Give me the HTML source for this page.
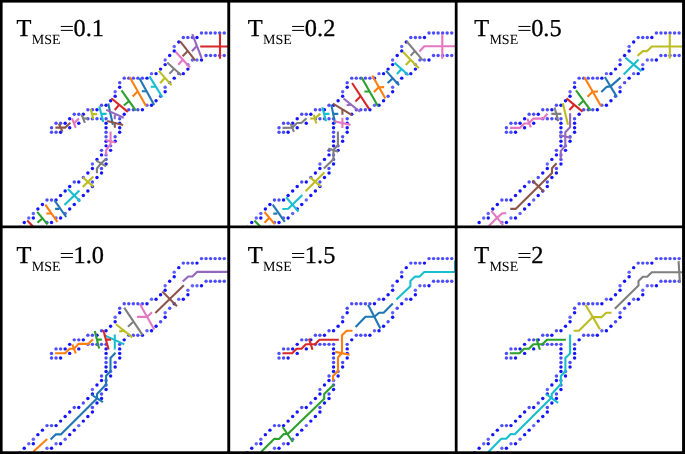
<!DOCTYPE html>
<html><head><meta charset="utf-8"><style>
html,body{margin:0;padding:0;background:#fff;width:685px;height:454px;overflow:hidden}
svg{display:block;will-change:transform}
text{text-rendering:geometricPrecision}
.lab{font-family:"Liberation Serif",serif;font-size:24.4px;fill:#000;stroke:#000;stroke-width:0.3px}
.sub{font-family:"Liberation Serif",serif;font-size:14px;fill:#000}
</style></head><body>
<svg width="685" height="454" viewBox="0 0 685 454">
<rect width="685" height="454" fill="#fff"/>
<defs><clipPath id="cp0"><rect x="2" y="2" width="226.3" height="224.6"/></clipPath><clipPath id="cp1"><rect x="229.5" y="2" width="226.3" height="224.6"/></clipPath><clipPath id="cp2"><rect x="456.9" y="2" width="226.3" height="224.6"/></clipPath><clipPath id="cp3"><rect x="2" y="227.6" width="226.3" height="224.6"/></clipPath><clipPath id="cp4"><rect x="229.5" y="227.6" width="226.3" height="224.6"/></clipPath><clipPath id="cp5"><rect x="456.9" y="227.6" width="226.3" height="224.6"/></clipPath><g id="dots"><circle cx="201.50" cy="33.00" r="1.72" fill="#0000ff" fill-opacity="0.7"/>
<circle cx="206.05" cy="33.00" r="1.72" fill="#0000ff" fill-opacity="0.7"/>
<circle cx="210.59" cy="33.00" r="1.72" fill="#0000ff" fill-opacity="0.7"/>
<circle cx="215.14" cy="33.00" r="1.72" fill="#0000ff" fill-opacity="0.7"/>
<circle cx="219.69" cy="33.00" r="1.72" fill="#0000ff" fill-opacity="0.7"/>
<circle cx="224.23" cy="33.00" r="1.72" fill="#0000ff" fill-opacity="0.7"/>
<circle cx="183.32" cy="37.51" r="1.72" fill="#0000ff" fill-opacity="0.7"/>
<circle cx="187.87" cy="37.51" r="1.72" fill="#0000ff" fill-opacity="0.7"/>
<circle cx="192.41" cy="37.51" r="1.72" fill="#0000ff" fill-opacity="0.7"/>
<circle cx="196.96" cy="37.51" r="1.72" fill="#0000ff" fill-opacity="0.92"/>
<circle cx="178.78" cy="42.03" r="1.72" fill="#0000ff" fill-opacity="0.92"/>
<circle cx="174.23" cy="46.54" r="1.72" fill="#0000ff" fill-opacity="0.62"/>
<circle cx="174.23" cy="51.06" r="1.72" fill="#0000ff" fill-opacity="0.92"/>
<circle cx="169.69" cy="55.57" r="1.72" fill="#0000ff" fill-opacity="0.92"/>
<circle cx="165.15" cy="60.08" r="1.72" fill="#0000ff" fill-opacity="0.62"/>
<circle cx="165.15" cy="64.60" r="1.72" fill="#0000ff" fill-opacity="0.92"/>
<circle cx="160.60" cy="69.11" r="1.72" fill="#0000ff" fill-opacity="0.92"/>
<circle cx="151.51" cy="73.63" r="1.72" fill="#0000ff" fill-opacity="0.62"/>
<circle cx="156.06" cy="73.63" r="1.72" fill="#0000ff" fill-opacity="0.92"/>
<circle cx="124.24" cy="78.14" r="1.72" fill="#0000ff" fill-opacity="0.7"/>
<circle cx="128.78" cy="78.14" r="1.72" fill="#0000ff" fill-opacity="0.7"/>
<circle cx="133.33" cy="78.14" r="1.72" fill="#0000ff" fill-opacity="0.7"/>
<circle cx="137.88" cy="78.14" r="1.72" fill="#0000ff" fill-opacity="0.7"/>
<circle cx="142.42" cy="78.14" r="1.72" fill="#0000ff" fill-opacity="0.7"/>
<circle cx="146.97" cy="78.14" r="1.72" fill="#0000ff" fill-opacity="0.92"/>
<circle cx="119.69" cy="82.65" r="1.72" fill="#0000ff" fill-opacity="0.7"/>
<circle cx="119.69" cy="87.17" r="1.72" fill="#0000ff" fill-opacity="0.92"/>
<circle cx="115.15" cy="91.68" r="1.72" fill="#0000ff" fill-opacity="0.62"/>
<circle cx="115.15" cy="96.20" r="1.72" fill="#0000ff" fill-opacity="0.92"/>
<circle cx="110.61" cy="100.71" r="1.72" fill="#0000ff" fill-opacity="0.92"/>
<circle cx="101.52" cy="105.22" r="1.72" fill="#0000ff" fill-opacity="0.7"/>
<circle cx="106.06" cy="105.22" r="1.72" fill="#0000ff" fill-opacity="0.92"/>
<circle cx="87.88" cy="109.74" r="1.72" fill="#0000ff" fill-opacity="0.7"/>
<circle cx="92.42" cy="109.74" r="1.72" fill="#0000ff" fill-opacity="0.7"/>
<circle cx="96.97" cy="109.74" r="1.72" fill="#0000ff" fill-opacity="0.92"/>
<circle cx="74.25" cy="114.25" r="1.72" fill="#0000ff" fill-opacity="0.7"/>
<circle cx="78.79" cy="114.25" r="1.72" fill="#0000ff" fill-opacity="0.7"/>
<circle cx="83.34" cy="114.25" r="1.72" fill="#0000ff" fill-opacity="0.92"/>
<circle cx="69.70" cy="118.77" r="1.72" fill="#0000ff" fill-opacity="0.92"/>
<circle cx="56.06" cy="123.28" r="1.72" fill="#0000ff" fill-opacity="0.7"/>
<circle cx="60.61" cy="123.28" r="1.72" fill="#0000ff" fill-opacity="0.7"/>
<circle cx="65.16" cy="123.28" r="1.72" fill="#0000ff" fill-opacity="0.92"/>
<circle cx="51.52" cy="127.79" r="1.72" fill="#0000ff" fill-opacity="0.7"/>
<circle cx="51.52" cy="132.31" r="1.72" fill="#0000ff" fill-opacity="0.7"/>
<circle cx="56.06" cy="132.31" r="1.72" fill="#0000ff" fill-opacity="0.7"/>
<circle cx="60.61" cy="132.31" r="1.72" fill="#0000ff" fill-opacity="0.92"/>
<circle cx="69.70" cy="127.79" r="1.72" fill="#0000ff" fill-opacity="0.92"/>
<circle cx="78.79" cy="123.28" r="1.72" fill="#0000ff" fill-opacity="0.92"/>
<circle cx="87.88" cy="118.77" r="1.72" fill="#0000ff" fill-opacity="0.7"/>
<circle cx="92.42" cy="118.77" r="1.72" fill="#0000ff" fill-opacity="0.7"/>
<circle cx="96.97" cy="118.77" r="1.72" fill="#0000ff" fill-opacity="0.7"/>
<circle cx="101.52" cy="118.77" r="1.72" fill="#0000ff" fill-opacity="0.7"/>
<circle cx="106.06" cy="118.77" r="1.72" fill="#0000ff" fill-opacity="0.7"/>
<circle cx="106.06" cy="123.28" r="1.72" fill="#0000ff" fill-opacity="0.92"/>
<circle cx="106.06" cy="127.79" r="1.72" fill="#0000ff" fill-opacity="0.92"/>
<circle cx="106.06" cy="132.31" r="1.72" fill="#0000ff" fill-opacity="0.7"/>
<circle cx="106.06" cy="136.82" r="1.72" fill="#0000ff" fill-opacity="0.7"/>
<circle cx="106.06" cy="141.34" r="1.72" fill="#0000ff" fill-opacity="0.92"/>
<circle cx="106.06" cy="145.85" r="1.72" fill="#0000ff" fill-opacity="0.92"/>
<circle cx="101.52" cy="150.36" r="1.72" fill="#0000ff" fill-opacity="0.7"/>
<circle cx="101.52" cy="154.88" r="1.72" fill="#0000ff" fill-opacity="0.92"/>
<circle cx="96.97" cy="159.39" r="1.72" fill="#0000ff" fill-opacity="0.92"/>
<circle cx="92.42" cy="163.91" r="1.72" fill="#0000ff" fill-opacity="0.62"/>
<circle cx="92.42" cy="168.42" r="1.72" fill="#0000ff" fill-opacity="0.92"/>
<circle cx="87.88" cy="172.93" r="1.72" fill="#0000ff" fill-opacity="0.92"/>
<circle cx="83.34" cy="177.45" r="1.72" fill="#0000ff" fill-opacity="0.7"/>
<circle cx="74.25" cy="181.96" r="1.72" fill="#0000ff" fill-opacity="0.7"/>
<circle cx="78.79" cy="181.96" r="1.72" fill="#0000ff" fill-opacity="0.92"/>
<circle cx="69.70" cy="186.48" r="1.72" fill="#0000ff" fill-opacity="0.92"/>
<circle cx="65.16" cy="190.99" r="1.72" fill="#0000ff" fill-opacity="0.92"/>
<circle cx="60.61" cy="195.50" r="1.72" fill="#0000ff" fill-opacity="0.92"/>
<circle cx="46.98" cy="200.02" r="1.72" fill="#0000ff" fill-opacity="0.7"/>
<circle cx="51.52" cy="200.02" r="1.72" fill="#0000ff" fill-opacity="0.7"/>
<circle cx="56.06" cy="200.02" r="1.72" fill="#0000ff" fill-opacity="0.92"/>
<circle cx="42.43" cy="204.53" r="1.72" fill="#0000ff" fill-opacity="0.92"/>
<circle cx="37.88" cy="209.05" r="1.72" fill="#0000ff" fill-opacity="0.92"/>
<circle cx="33.34" cy="213.56" r="1.72" fill="#0000ff" fill-opacity="0.62"/>
<circle cx="33.34" cy="218.07" r="1.72" fill="#0000ff" fill-opacity="0.92"/>
<circle cx="28.80" cy="218.07" r="1.72" fill="#0000ff" fill-opacity="0.62"/>
<circle cx="24.25" cy="222.59" r="1.72" fill="#0000ff" fill-opacity="0.92"/>
<circle cx="206.05" cy="55.57" r="1.72" fill="#0000ff" fill-opacity="0.7"/>
<circle cx="210.59" cy="55.57" r="1.72" fill="#0000ff" fill-opacity="0.7"/>
<circle cx="215.14" cy="55.57" r="1.72" fill="#0000ff" fill-opacity="0.7"/>
<circle cx="219.69" cy="55.57" r="1.72" fill="#0000ff" fill-opacity="0.7"/>
<circle cx="224.23" cy="55.57" r="1.72" fill="#0000ff" fill-opacity="0.7"/>
<circle cx="192.41" cy="60.08" r="1.72" fill="#0000ff" fill-opacity="0.62"/>
<circle cx="196.96" cy="60.08" r="1.72" fill="#0000ff" fill-opacity="0.62"/>
<circle cx="201.50" cy="60.08" r="1.72" fill="#0000ff" fill-opacity="0.92"/>
<circle cx="187.87" cy="64.60" r="1.72" fill="#0000ff" fill-opacity="0.62"/>
<circle cx="187.87" cy="69.11" r="1.72" fill="#0000ff" fill-opacity="0.92"/>
<circle cx="178.78" cy="73.63" r="1.72" fill="#0000ff" fill-opacity="0.62"/>
<circle cx="183.32" cy="73.63" r="1.72" fill="#0000ff" fill-opacity="0.92"/>
<circle cx="174.23" cy="78.14" r="1.72" fill="#0000ff" fill-opacity="0.92"/>
<circle cx="169.69" cy="82.65" r="1.72" fill="#0000ff" fill-opacity="0.7"/>
<circle cx="165.15" cy="87.17" r="1.72" fill="#0000ff" fill-opacity="0.62"/>
<circle cx="165.15" cy="91.68" r="1.72" fill="#0000ff" fill-opacity="0.92"/>
<circle cx="160.60" cy="96.20" r="1.72" fill="#0000ff" fill-opacity="0.7"/>
<circle cx="156.06" cy="100.71" r="1.72" fill="#0000ff" fill-opacity="0.92"/>
<circle cx="146.97" cy="105.22" r="1.72" fill="#0000ff" fill-opacity="0.62"/>
<circle cx="151.51" cy="105.22" r="1.72" fill="#0000ff" fill-opacity="0.92"/>
<circle cx="128.78" cy="109.74" r="1.72" fill="#0000ff" fill-opacity="0.7"/>
<circle cx="133.33" cy="109.74" r="1.72" fill="#0000ff" fill-opacity="0.7"/>
<circle cx="137.88" cy="109.74" r="1.72" fill="#0000ff" fill-opacity="0.7"/>
<circle cx="142.42" cy="109.74" r="1.72" fill="#0000ff" fill-opacity="0.92"/>
<circle cx="124.24" cy="114.25" r="1.72" fill="#0000ff" fill-opacity="0.92"/>
<circle cx="119.69" cy="118.77" r="1.72" fill="#0000ff" fill-opacity="0.7"/>
<circle cx="119.69" cy="123.28" r="1.72" fill="#0000ff" fill-opacity="0.92"/>
<circle cx="119.69" cy="127.79" r="1.72" fill="#0000ff" fill-opacity="0.92"/>
<circle cx="119.69" cy="132.31" r="1.72" fill="#0000ff" fill-opacity="0.92"/>
<circle cx="115.15" cy="136.82" r="1.72" fill="#0000ff" fill-opacity="0.7"/>
<circle cx="115.15" cy="141.34" r="1.72" fill="#0000ff" fill-opacity="0.92"/>
<circle cx="110.61" cy="145.85" r="1.72" fill="#0000ff" fill-opacity="0.62"/>
<circle cx="110.61" cy="150.36" r="1.72" fill="#0000ff" fill-opacity="0.92"/>
<circle cx="106.06" cy="154.88" r="1.72" fill="#0000ff" fill-opacity="0.62"/>
<circle cx="106.06" cy="159.39" r="1.72" fill="#0000ff" fill-opacity="0.7"/>
<circle cx="106.06" cy="163.91" r="1.72" fill="#0000ff" fill-opacity="0.92"/>
<circle cx="101.52" cy="168.42" r="1.72" fill="#0000ff" fill-opacity="0.7"/>
<circle cx="101.52" cy="172.93" r="1.72" fill="#0000ff" fill-opacity="0.92"/>
<circle cx="96.97" cy="177.45" r="1.72" fill="#0000ff" fill-opacity="0.92"/>
<circle cx="92.42" cy="181.96" r="1.72" fill="#0000ff" fill-opacity="0.7"/>
<circle cx="92.42" cy="186.48" r="1.72" fill="#0000ff" fill-opacity="0.92"/>
<circle cx="87.88" cy="190.99" r="1.72" fill="#0000ff" fill-opacity="0.92"/>
<circle cx="83.34" cy="195.50" r="1.72" fill="#0000ff" fill-opacity="0.92"/>
<circle cx="78.79" cy="200.02" r="1.72" fill="#0000ff" fill-opacity="0.62"/>
<circle cx="74.25" cy="204.53" r="1.72" fill="#0000ff" fill-opacity="0.92"/>
<circle cx="69.70" cy="209.05" r="1.72" fill="#0000ff" fill-opacity="0.92"/>
<circle cx="65.16" cy="213.56" r="1.72" fill="#0000ff" fill-opacity="0.62"/>
<circle cx="56.06" cy="218.07" r="1.72" fill="#0000ff" fill-opacity="0.62"/>
<circle cx="60.61" cy="218.07" r="1.72" fill="#0000ff" fill-opacity="0.92"/>
<circle cx="46.98" cy="222.59" r="1.72" fill="#0000ff" fill-opacity="0.62"/>
<circle cx="51.52" cy="222.59" r="1.72" fill="#0000ff" fill-opacity="0.92"/>
<circle cx="19.70" cy="227.10" r="1.72" fill="#0000ff" fill-opacity="0.7"/>
<circle cx="42.43" cy="227.10" r="1.72" fill="#0000ff" fill-opacity="0.7"/></g></defs>
<g clip-path="url(#cp0)"><g transform="translate(0,0)">
<use href="#dots"/>
<g fill="none" stroke-width="2.1" stroke-linejoin="round"><polyline points="200.2,46.5 228.0,46.5" stroke="#d62728"/><polyline points="220.0,34.0 220.0,58.7" stroke="#d62728"/><polyline points="192.3,34.2 201.6,58.0" stroke="#9467bd"/><polyline points="196.3,46.5 191.9,51.3" stroke="#9467bd"/><polyline points="180.0,41.2 195.4,60.6" stroke="#8c564b"/><polyline points="187.5,51.3 182.6,56.2" stroke="#8c564b"/><polyline points="175.6,51.8 190.0,67.5" stroke="#e377c2"/><polyline points="182.6,60.0 178.2,64.8" stroke="#e377c2"/><polyline points="167.2,62.5 181.3,75.3" stroke="#7f7f7f"/><polyline points="173.8,69.1 169.4,73.9" stroke="#7f7f7f"/><polyline points="158.8,70.9 171.6,85.4" stroke="#bcbd22"/><polyline points="164.5,78.3 160.1,83.2" stroke="#bcbd22"/><polyline points="149.5,76.4 162.4,97.3" stroke="#17becf"/><polyline points="155.7,86.8 150.7,86.8" stroke="#17becf"/><polyline points="139.3,77.9 154.2,104.9" stroke="#1f77b4"/><polyline points="146.3,91.3 141.8,91.3" stroke="#1f77b4"/><polyline points="129.7,77.1 146.0,105.9" stroke="#ff7f0e"/><polyline points="137.3,91.8 132.7,96.6" stroke="#ff7f0e"/><polyline points="121.5,90.3 135.9,110.6" stroke="#2ca02c"/><polyline points="128.9,101.2 123.8,105.5" stroke="#2ca02c"/><polyline points="111.3,98.3 127.8,111.9" stroke="#d62728"/><polyline points="118.8,105.1 114.8,110.0" stroke="#d62728"/><polyline points="108.2,103.6 112.9,124.8" stroke="#1f77b4"/><polyline points="106.2,109.9 123.8,117.8" stroke="#9467bd"/><polyline points="114.8,114.9 114.8,119.2" stroke="#9467bd"/><polyline points="99.3,106.3 103.3,122.1" stroke="#17becf"/><polyline points="102.0,113.9 106.6,113.9" stroke="#17becf"/><polyline points="107.2,121.1 123.1,125.1" stroke="#8c564b"/><polyline points="114.8,123.1 114.8,127.8" stroke="#8c564b"/><polyline points="90.6,108.8 93.3,118.9" stroke="#bcbd22"/><polyline points="92.0,114.1 97.2,114.1" stroke="#bcbd22"/><polyline points="81.6,114.5 84.9,122.9" stroke="#7f7f7f"/><polyline points="83.6,118.5 88.0,118.5" stroke="#7f7f7f"/><polyline points="72.1,118.5 75.7,127.8" stroke="#e377c2"/><polyline points="74.3,123.1 78.9,118.5" stroke="#e377c2"/><polyline points="55.4,127.6 65.1,127.6 70.4,122.8" stroke="#8c564b"/><polyline points="58.9,123.7 62.5,131.6" stroke="#8c564b"/><polyline points="110.6,131.5 110.6,143.8 106.1,150.4 106.1,155.2" stroke="#e377c2"/><polyline points="105.7,140.1 115.4,142.5" stroke="#e377c2"/><polyline points="106.1,158.8 100.8,163.7 96.9,168.5 96.9,173.3" stroke="#7f7f7f"/><polyline points="96.4,160.6 106.1,166.3" stroke="#7f7f7f"/><polyline points="82.8,177.3 93.3,186.6" stroke="#bcbd22"/><polyline points="93.3,176.4 82.8,187.0" stroke="#bcbd22"/><polyline points="67.9,189.1 80.2,201.4" stroke="#17becf"/><polyline points="79.4,190.4 64.4,205.0" stroke="#17becf"/><polyline points="54.5,200.3 66.2,217.0" stroke="#1f77b4"/><polyline points="59.4,208.9 55.1,208.9" stroke="#1f77b4"/><polyline points="45.3,204.7 57.4,221.9" stroke="#ff7f0e"/><polyline points="51.5,213.5 46.3,213.5" stroke="#ff7f0e"/><polyline points="37.2,211.8 47.5,224.3" stroke="#2ca02c"/><polyline points="42.2,218.4 37.5,222.8" stroke="#2ca02c"/><polyline points="27.2,220.6 34.0,227.5" stroke="#d62728"/></g>
</g></g>
<text x="16.56" y="36.40" class="lab">T</text>
<text x="31.80" y="44.00" class="sub">MSE</text>
<rect x="60.80" y="25.95" width="12.1" height="1.0" fill="#000"/>
<rect x="60.80" y="29.90" width="12.1" height="1.0" fill="#000"/>
<text x="73.57 85.77 91.87" y="36.40" class="lab">0.1</text>
<g clip-path="url(#cp1)"><g transform="translate(227.5,0)">
<use href="#dots"/>
<g fill="none" stroke-width="2.1" stroke-linejoin="round"><polyline points="191.9,51.5 196.8,46.2 228.0,46.2" stroke="#e377c2"/><polyline points="214.8,33.9 214.8,58.7" stroke="#e377c2"/><polyline points="179.1,41.2 195.3,60.4" stroke="#7f7f7f"/><polyline points="187.3,51.1 183.1,55.8" stroke="#7f7f7f"/><polyline points="175.4,51.8 191.3,68.3" stroke="#bcbd22"/><polyline points="183.1,60.1 178.3,65.0" stroke="#bcbd22"/><polyline points="167.0,62.7 181.0,75.3" stroke="#17becf"/><polyline points="173.8,69.3 169.4,74.0" stroke="#17becf"/><polyline points="158.6,70.9 171.6,85.2" stroke="#1f77b4"/><polyline points="165.0,78.6 160.1,83.0" stroke="#1f77b4"/><polyline points="144.7,75.5 157.9,98.4" stroke="#ff7f0e"/><polyline points="146.4,92.0 151.3,87.2 156.6,87.1" stroke="#ff7f0e"/><polyline points="134.0,77.2 150.5,106.3" stroke="#2ca02c"/><polyline points="141.7,91.5 136.9,91.5" stroke="#2ca02c"/><polyline points="124.6,83.0 141.7,109.1" stroke="#d62728"/><polyline points="132.9,96.4 127.9,101.4" stroke="#d62728"/><polyline points="116.1,98.5 132.4,111.8" stroke="#9467bd"/><polyline points="124.1,104.7 119.1,105.2" stroke="#9467bd"/><polyline points="105.5,103.7 124.5,115.2" stroke="#8c564b"/><polyline points="114.9,109.5 114.9,114.7" stroke="#8c564b"/><polyline points="103.8,104.6 107.7,123.6" stroke="#1f77b4"/><polyline points="105.1,113.9 110.8,113.9" stroke="#1f77b4"/><polyline points="94.9,107.3 98.5,121.3" stroke="#17becf"/><polyline points="96.7,113.9 102.0,113.9" stroke="#17becf"/><polyline points="106.8,121.3 123.1,124.9" stroke="#e377c2"/><polyline points="114.9,117.8 114.9,128.0" stroke="#e377c2"/><polyline points="110.4,131.4 110.4,145.3 106.0,149.8 106.0,159.2 96.3,168.6" stroke="#7f7f7f"/><polyline points="100.8,148.6 110.7,151.8" stroke="#7f7f7f"/><polyline points="55.0,127.9 64.7,127.7 69.5,123.0 73.9,123.0 79.0,118.2" stroke="#7f7f7f"/><polyline points="63.2,123.5 66.4,131.8" stroke="#7f7f7f"/><polyline points="82.7,118.6 87.6,118.2 92.8,113.6" stroke="#bcbd22"/><polyline points="86.2,114.7 88.9,123.5" stroke="#bcbd22"/><polyline points="97.0,172.3 78.1,191.3" stroke="#bcbd22"/><polyline points="82.5,177.2 93.1,186.4" stroke="#bcbd22"/><polyline points="58.6,197.3 71.0,211.6" stroke="#17becf"/><polyline points="74.9,194.9 64.8,204.7 60.8,208.7 54.9,209.0" stroke="#17becf"/><polyline points="45.2,204.7 57.3,221.9" stroke="#1f77b4"/><polyline points="49.8,213.6 45.8,213.6" stroke="#1f77b4"/><polyline points="37.0,212.0 47.2,224.1" stroke="#ff7f0e"/><polyline points="41.7,218.0 37.0,222.8" stroke="#ff7f0e"/><polyline points="26.9,220.6 33.5,227.2" stroke="#2ca02c"/></g>
</g></g>
<text x="247.86" y="36.40" class="lab">T</text>
<text x="263.10" y="44.00" class="sub">MSE</text>
<rect x="292.10" y="25.95" width="12.1" height="1.0" fill="#000"/>
<rect x="292.10" y="29.90" width="12.1" height="1.0" fill="#000"/>
<text x="304.87 317.07 323.17" y="36.40" class="lab">0.2</text>
<g clip-path="url(#cp2)"><g transform="translate(454.9,0)">
<use href="#dots"/>
<g fill="none" stroke-width="2.1" stroke-linejoin="round"><polyline points="182.6,55.8 188.0,51.1 192.3,51.1 196.9,46.5 228.0,46.5" stroke="#bcbd22"/><polyline points="214.9,33.9 214.9,58.6" stroke="#bcbd22"/><polyline points="170.5,57.6 186.6,71.1" stroke="#17becf"/><polyline points="183.7,59.4 168.7,74.4" stroke="#17becf"/><polyline points="149.9,77.0 162.0,96.9" stroke="#1f77b4"/><polyline points="165.6,77.6 155.7,86.4 151.6,86.9 146.4,91.9" stroke="#1f77b4"/><polyline points="129.5,77.2 146.1,106.1" stroke="#ff7f0e"/><polyline points="143.1,91.5 137.6,91.8 132.6,96.7" stroke="#ff7f0e"/><polyline points="121.1,90.4 135.9,110.7" stroke="#2ca02c"/><polyline points="128.2,101.1 123.6,105.5" stroke="#2ca02c"/><polyline points="111.5,98.4 127.7,111.6" stroke="#d62728"/><polyline points="119.2,105.0 114.5,109.9" stroke="#d62728"/><polyline points="107.9,103.3 113.1,124.7" stroke="#bcbd22"/><polyline points="99.7,107.5 103.4,121.1" stroke="#7f7f7f"/><polyline points="96.4,113.9 106.5,113.9" stroke="#7f7f7f"/><polyline points="55.2,127.9 64.9,127.9 69.3,123.5 73.7,123.5 78.6,118.6 88.2,118.6 92.6,113.8" stroke="#e377c2"/><polyline points="72.4,118.6 75.9,127.4" stroke="#e377c2"/><polyline points="115.2,113.2 115.2,127.3 110.4,132.2 110.4,145.9 105.9,150.9 105.9,159.1" stroke="#9467bd"/><polyline points="104.3,135.1 116.4,138.0" stroke="#9467bd"/><polyline points="101.7,163.3 97.1,168.3 97.1,173.0 60.7,208.9 55.4,208.9" stroke="#8c564b"/><polyline points="77.5,180.5 89.0,191.7" stroke="#8c564b"/><polyline points="36.5,210.9 48.2,225.2" stroke="#e377c2"/><polyline points="51.5,213.3 47.3,213.3 41.9,218.1 33.9,226.0" stroke="#e377c2"/></g>
</g></g>
<text x="474.16" y="36.40" class="lab">T</text>
<text x="489.40" y="44.00" class="sub">MSE</text>
<rect x="518.40" y="25.95" width="12.1" height="1.0" fill="#000"/>
<rect x="518.40" y="29.90" width="12.1" height="1.0" fill="#000"/>
<text x="531.17 543.37 549.47" y="36.40" class="lab">0.5</text>
<g clip-path="url(#cp3)"><g transform="translate(0,225.6)">
<use href="#dots"/>
<g fill="none" stroke-width="2.1" stroke-linejoin="round"><polyline points="182.8,56.0 188.2,50.9 192.4,50.9 197.0,46.3 228.0,46.3" stroke="#9467bd"/><polyline points="183.9,59.6 155.3,87.4" stroke="#8c564b"/><polyline points="162.3,66.0 177.0,80.7" stroke="#8c564b"/><polyline points="139.9,78.4 154.2,104.0" stroke="#e377c2"/><polyline points="137.1,91.3 147.0,91.3 152.0,86.6" stroke="#e377c2"/><polyline points="124.2,82.1 142.6,109.6" stroke="#7f7f7f"/><polyline points="133.0,96.4 128.0,101.1" stroke="#7f7f7f"/><polyline points="115.9,98.6 132.4,111.8" stroke="#bcbd22"/><polyline points="124.7,105.2 119.2,105.8" stroke="#bcbd22"/><polyline points="104.7,109.8 124.3,118.8" stroke="#17becf"/><polyline points="114.8,108.9 114.8,124.0" stroke="#17becf"/><polyline points="103.3,104.3 108.6,124.0" stroke="#d62728"/><polyline points="105.9,114.0 111.1,114.0" stroke="#d62728"/><polyline points="94.8,105.5 99.1,123.0" stroke="#2ca02c"/><polyline points="96.8,114.0 101.9,114.0" stroke="#2ca02c"/><polyline points="55.1,127.7 65.2,127.7 69.6,123.1 74.0,123.1 78.5,118.3 88.1,118.3 93.0,113.6" stroke="#ff7f0e"/><polyline points="72.3,118.9 75.8,127.7" stroke="#ff7f0e"/><polyline points="115.5,127.1 110.5,132.4 110.5,145.6 106.1,150.2 106.1,159.0 97.0,168.3 97.0,172.8 60.8,208.8 55.6,208.8 50.6,213.8" stroke="#1f77b4"/><polyline points="91.3,168.9 102.9,176.6" stroke="#1f77b4"/><polyline points="47.2,213.3 33.5,226.0" stroke="#ff7f0e"/></g>
</g></g>
<text x="16.56" y="263.45" class="lab">T</text>
<text x="31.80" y="271.05" class="sub">MSE</text>
<rect x="60.80" y="253.00" width="12.1" height="1.0" fill="#000"/>
<rect x="60.80" y="256.95" width="12.1" height="1.0" fill="#000"/>
<text x="73.57 85.77 91.87" y="263.45" class="lab">1.0</text>
<g clip-path="url(#cp4)"><g transform="translate(227.5,225.6)">
<use href="#dots"/>
<g fill="none" stroke-width="2.1" stroke-linejoin="round"><polyline points="168.9,73.9 182.9,60.6 182.9,55.3 187.6,51.0 192.1,51.0 196.8,46.4 228.0,46.4" stroke="#17becf"/><polyline points="227.6,35.0 227.6,46.0" stroke="#17becf"/><polyline points="165.3,77.9 156.1,87.2 151.6,87.2 146.8,91.1 138.0,91.1 128.1,101.4" stroke="#1f77b4"/><polyline points="140.6,79.2 152.9,103.0" stroke="#1f77b4"/><polyline points="125.0,105.1 119.2,105.1 114.5,109.7 114.5,127.2 110.5,131.9 110.5,145.3 105.5,150.3 105.5,155.2" stroke="#ff7f0e"/><polyline points="107.8,126.3 122.2,129.2" stroke="#ff7f0e"/><polyline points="54.9,127.6 64.7,127.6 69.1,123.2 74.0,123.2 78.4,118.6 87.6,118.6 92.0,114.2 111.3,114.2" stroke="#d62728"/><polyline points="81.5,113.0 85.0,124.2" stroke="#d62728"/><polyline points="106.1,159.1 96.7,168.5 96.7,173.2 60.5,208.1 56.3,208.5 51.5,213.4 46.6,213.3 33.5,226.5" stroke="#2ca02c"/><polyline points="55.2,201.4 65.3,216.4" stroke="#2ca02c"/></g>
</g></g>
<text x="247.86" y="263.45" class="lab">T</text>
<text x="263.10" y="271.05" class="sub">MSE</text>
<rect x="292.10" y="253.00" width="12.1" height="1.0" fill="#000"/>
<rect x="292.10" y="256.95" width="12.1" height="1.0" fill="#000"/>
<text x="304.87 317.07 323.17" y="263.45" class="lab">1.5</text>
<g clip-path="url(#cp5)"><g transform="translate(454.9,225.6)">
<use href="#dots"/>
<g fill="none" stroke-width="2.1" stroke-linejoin="round"><polyline points="159.9,83.2 183.6,59.9 183.6,55.5 188.0,51.2 192.3,51.2 196.9,46.6 228.0,46.6" stroke="#7f7f7f"/><polyline points="223.7,35.5 225.0,57.3" stroke="#7f7f7f"/><polyline points="156.6,87.1 151.3,87.1 146.8,91.5 137.9,91.5 124.0,105.1 118.7,105.1" stroke="#bcbd22"/><polyline points="130.6,79.2 145.1,103.8" stroke="#bcbd22"/><polyline points="54.9,127.6 64.7,127.6 69.1,123.2 74.0,123.2 78.4,118.6 87.6,118.6 92.0,114.2 111.0,114.2" stroke="#2ca02c"/><polyline points="81.5,113.0 85.0,124.2" stroke="#2ca02c"/><polyline points="115.2,109.0 115.2,127.9 110.5,132.4 110.5,145.6 106.0,150.4 106.0,158.4 96.8,168.4 96.8,171.8 59.8,208.6 55.8,208.5 51.3,213.2 46.4,213.2 33.5,226.3" stroke="#17becf"/><polyline points="91.0,168.4 103.3,177.2" stroke="#17becf"/></g>
</g></g>
<text x="474.16" y="263.45" class="lab">T</text>
<text x="489.40" y="271.05" class="sub">MSE</text>
<rect x="518.40" y="253.00" width="12.1" height="1.0" fill="#000"/>
<rect x="518.40" y="256.95" width="12.1" height="1.0" fill="#000"/>
<text x="531.17" y="263.45" class="lab">2</text>
<rect x="0" y="0" width="2.6" height="454" fill="#000"/>
<rect x="682.1" y="0" width="2.9" height="454" fill="#000"/>
<rect x="0" y="0" width="685" height="2.6" fill="#000"/>
<rect x="0" y="451.3" width="685" height="2.7" fill="#000"/>
<rect x="227.3" y="0" width="2.9" height="454" fill="#000"/>
<rect x="454.8" y="0" width="2.75" height="454" fill="#000"/>
<rect x="0" y="225.5" width="685" height="2.7" fill="#000"/>
</svg>
</body></html>
